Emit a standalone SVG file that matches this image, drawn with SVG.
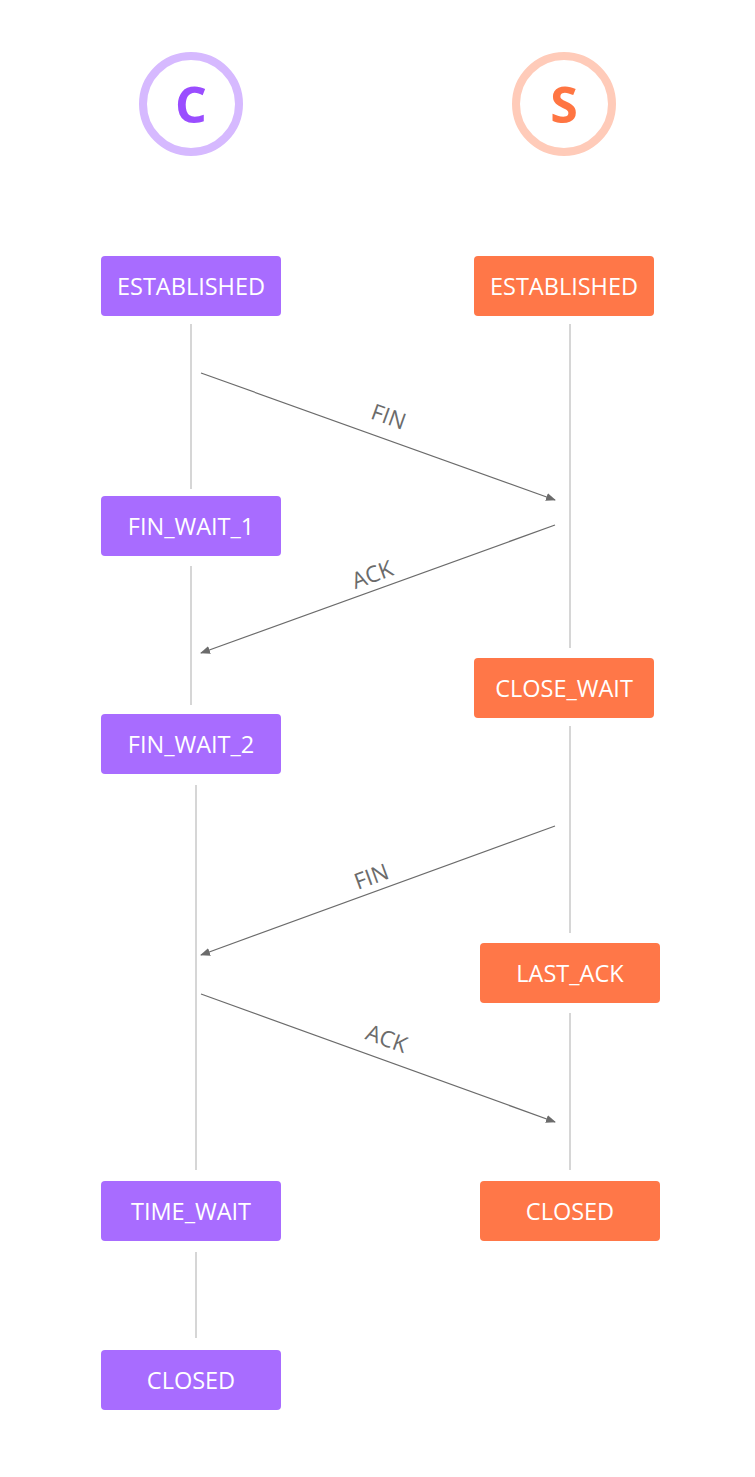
<svg xmlns="http://www.w3.org/2000/svg" width="755" height="1477" viewBox="0 0 755 1477">
<defs>
<style>
.bp{fill:#a86cff}
.bo{fill:#ff7748}
.bt{font-family:"Open Sans","Noto Sans",sans-serif;font-size:23.5px;fill:#fff;text-anchor:middle;dominant-baseline:central}
.life{stroke:#d6d6d6;stroke-width:2;fill:none}
.msg{stroke:#6b6b6b;stroke-width:1.2;fill:none;marker-end:url(#ah)}
.lb{font-family:"Open Sans","Noto Sans",sans-serif;font-size:22.5px;fill:#6b6b6b;text-anchor:middle}
</style>
<marker id="ah" viewBox="0 0 10 10" refX="9" refY="5" markerWidth="10" markerHeight="10" markerUnits="userSpaceOnUse" orient="auto">
<path d="M0,1 L10,5 L0,9 z" fill="#6b6b6b"/>
</marker>
</defs>
<rect width="755" height="1477" fill="#fff"/>
<g id="client">
<circle cx="191" cy="104" r="48" fill="none" stroke="#d6b9ff" stroke-width="8"/>
<text x="191" y="104" font-family="Open Sans,sans-serif" font-size="50" font-weight="bold" fill="#9a4dff" text-anchor="middle" dominant-baseline="central">C</text>
</g>
<g id="server">
<circle cx="564" cy="104" r="48" fill="none" stroke="#ffcbb9" stroke-width="8"/>
<text x="564" y="104" font-family="Open Sans,sans-serif" font-size="50" font-weight="bold" fill="#ff7542" text-anchor="middle" dominant-baseline="central">S</text>
</g>
<g id="connectors">
<line class="life" x1="191" y1="324" x2="191" y2="489"/>
<line class="life" x1="191" y1="566" x2="191" y2="705"/>
<line class="life" x1="196" y1="785" x2="196" y2="1170"/>
<line class="life" x1="196" y1="1252" x2="196" y2="1338"/>
<line class="life" x1="570" y1="324" x2="570" y2="648"/>
<line class="life" x1="570" y1="726" x2="570" y2="933"/>
<line class="life" x1="570" y1="1013" x2="570" y2="1170"/>
<line class="msg" x1="201" y1="373" x2="555" y2="500"/>
<line class="msg" x1="555" y1="525" x2="201" y2="653"/>
<line class="msg" x1="555" y1="826" x2="201" y2="955"/>
<line class="msg" x1="201" y1="994" x2="555" y2="1122"/>
<text class="lb" transform="translate(386,424) rotate(19.7)">FIN</text>
<text class="lb" transform="translate(375,582) rotate(-19.9)">ACK</text>
<text class="lb" transform="translate(374,884) rotate(-20)">FIN</text>
<text class="lb" transform="translate(384,1046) rotate(19.9)">ACK</text>
</g>
<g id="c-established"><rect class="bp" x="101" y="256" width="180" height="60" rx="4"/><text class="bt" x="191" y="286">ESTABLISHED</text></g>
<g id="s-established"><rect class="bo" x="474" y="256" width="180" height="60" rx="4"/><text class="bt" x="564" y="286">ESTABLISHED</text></g>
<g id="fin-wait-1"><rect class="bp" x="101" y="496" width="180" height="60" rx="4"/><text class="bt" x="191" y="526">FIN_WAIT_1</text></g>
<g id="close-wait"><rect class="bo" x="474" y="658" width="180" height="60" rx="4"/><text class="bt" x="564" y="688">CLOSE_WAIT</text></g>
<g id="fin-wait-2"><rect class="bp" x="101" y="714" width="180" height="60" rx="4"/><text class="bt" x="191" y="744">FIN_WAIT_2</text></g>
<g id="last-ack"><rect class="bo" x="480" y="943" width="180" height="60" rx="4"/><text class="bt" x="570" y="973">LAST_ACK</text></g>
<g id="time-wait"><rect class="bp" x="101" y="1181" width="180" height="60" rx="4"/><text class="bt" x="191" y="1211">TIME_WAIT</text></g>
<g id="s-closed"><rect class="bo" x="480" y="1181" width="180" height="60" rx="4"/><text class="bt" x="570" y="1211">CLOSED</text></g>
<g id="c-closed"><rect class="bp" x="101" y="1350" width="180" height="60" rx="4"/><text class="bt" x="191" y="1380">CLOSED</text></g>
</svg>
